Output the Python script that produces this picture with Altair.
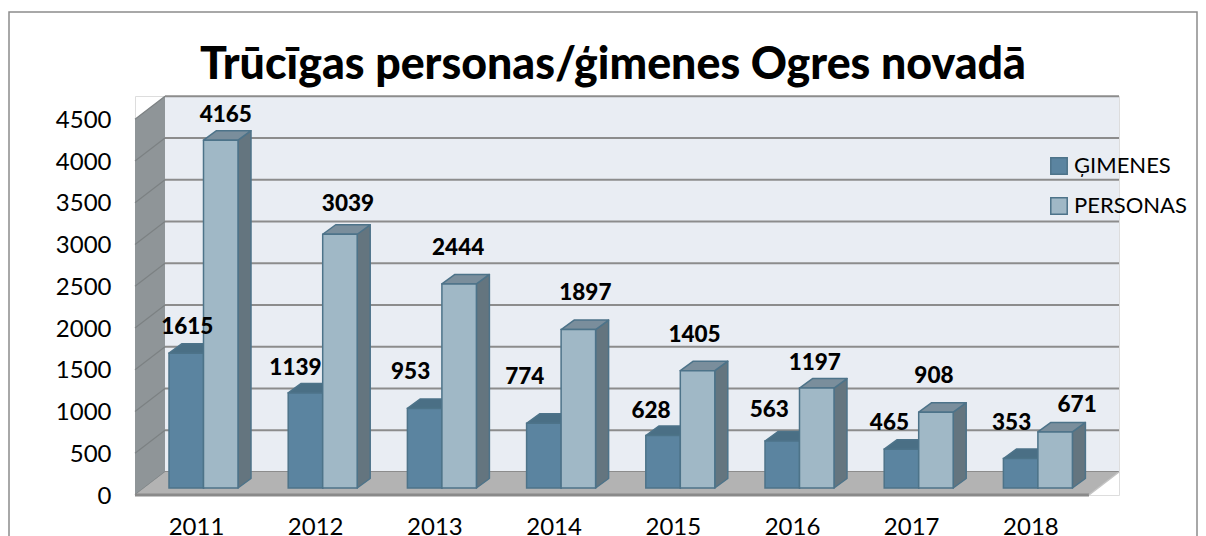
import altair as alt
import pandas as pd

years = [2011, 2012, 2013, 2014, 2015, 2016, 2017, 2018]
gimenes = [1615, 1139, 953, 774, 628, 563, 465, 353]
personas = [4165, 3039, 2444, 1897, 1405, 1197, 908, 671]
y_ticks = [0, 500, 1000, 1500, 2000, 2500, 3000, 3500, 4000, 4500]
title_text = "Trūcīgas personas/ģimenes Ogres novadā"
series_names = ["ĢIMENES", "PERSONAS"]

# hand-placed data labels of the original: shift from the bar's top centre, px
g_label_dx = [1, -10, -14, -19, -12, -13, -12, -9]
g_label_up = [26, 25, 36, 46, 25, 31, 26, 36]
p_label_dx = [5, 8, -1, 7, -3, -2, -2, 22]
p_label_up = [25, 30, 36, 37, 36, 25, 36, 27]

W, H = 984, 399
PX_PER_YEAR = 119.2
PX_PER_UNIT = 0.0835
x_dom = [2011 - 61 / PX_PER_YEAR, 2011 + 923 / PX_PER_YEAR]
y_dom = [0, H / PX_PER_UNIT]
xs = alt.Scale(domain=x_dom, nice=False, zero=False)
ys = alt.Scale(domain=y_dom, nice=False, zero=False)


def ux(px):
    return px / PX_PER_YEAR


def uy(px):
    return px / PX_PER_UNIT


wall_dx, wall_dy = ux(30), uy(23)
bar_w, bar_dx, bar_dy = ux(34.5), ux(13), uy(9.5)
base = uy(7)
bar_left = ux(-27)
x_l, x_r = x_dom[0], x_dom[1] - wall_dx
top_val = y_ticks[-1]


def X(field="x"):
    return alt.X(f"{field}:Q", scale=xs, title=None)


def Y(field="y"):
    return alt.Y(f"{field}:Q", scale=ys, title=None)


def area_layer(rows, fill, stroke=None, sw=0):
    kw = {"fill": fill, "opacity": 1}
    if stroke:
        kw.update(stroke=stroke, strokeWidth=sw, strokeJoin="round")
    return alt.Chart(pd.DataFrame(rows)).mark_area(**kw).encode(
        x=X(), y=Y(), y2="y2:Q", detail="id:N",
    )


back = area_layer(
    [{"id": 0, "x": x_l + wall_dx, "y": top_val + wall_dy, "y2": wall_dy},
     {"id": 0, "x": x_r + wall_dx, "y": top_val + wall_dy, "y2": wall_dy}],
    "#E9EDF3",
)
left = area_layer(
    [{"id": 0, "x": x_l, "y": top_val, "y2": 0},
     {"id": 0, "x": x_l + wall_dx, "y": top_val + wall_dy, "y2": wall_dy}],
    "#8F9598",
)
floor = area_layer(
    [{"id": 0, "x": x_l, "y": 0, "y2": 0},
     {"id": 0, "x": x_l + wall_dx, "y": wall_dy, "y2": 0},
     {"id": 0, "x": x_r, "y": wall_dy, "y2": 0},
     {"id": 0, "x": x_r + wall_dx, "y": wall_dy, "y2": wall_dy}],
    "#B3B3B3",
)

grid_df = pd.DataFrame({
    "x": [x_l + wall_dx] * len(y_ticks),
    "x2": [x_r + wall_dx] * len(y_ticks),
    "y": [v + wall_dy for v in y_ticks],
})
grid = alt.Chart(grid_df).mark_rule(color="#8C8C8C", strokeWidth=2).encode(
    x=X(), x2="x2:Q", y=Y(),
)
diag_df = pd.DataFrame({
    "x": [x_l] * len(y_ticks),
    "x2": [x_l + wall_dx] * len(y_ticks),
    "y": y_ticks,
    "y2": [v + wall_dy for v in y_ticks],
})
diag = alt.Chart(diag_df).mark_rule(color="#7C8183", strokeWidth=1.2).encode(
    x=X(), x2="x2:Q", y=Y(), y2="y2:Q",
)
front_edge = alt.Chart(pd.DataFrame({"x": [x_l], "x2": [x_r], "y": [0]})).mark_rule(
    color="#8A8A8A", strokeWidth=3
).encode(x=X(), x2="x2:Q", y=Y())
edge_r = alt.Chart(pd.DataFrame({"x": [x_r], "x2": [x_r + wall_dx], "y": [0], "y2": [wall_dy]})).mark_rule(
    color="#C4C4C4", strokeWidth=1.5
).encode(x=X(), x2="x2:Q", y=Y(), y2="y2:Q")


def bar_faces(values, shift, side_fill, top_fill, stroke):
    side, top = [], []
    for yr, v in zip(years, values):
        x0 = yr + bar_left + shift
        h = v + base
        side += [{"id": yr, "x": x0 + bar_w, "y": h, "y2": base},
                 {"id": yr, "x": x0 + bar_w + bar_dx, "y": h + bar_dy, "y2": base + bar_dy}]
        top += [{"id": yr, "x": x0, "y": h, "y2": h},
                {"id": yr, "x": x0 + bar_dx, "y": h + bar_dy, "y2": h},
                {"id": yr, "x": x0 + bar_w, "y": h + bar_dy, "y2": h},
                {"id": yr, "x": x0 + bar_w + bar_dx, "y": h + bar_dy, "y2": h + bar_dy}]
    return [area_layer(side, side_fill, stroke, 1.5), area_layer(top, top_fill, stroke, 1.5)]


STROKE = "#4D7389"
g_layers = bar_faces(gimenes, 0, "#4A6F85", "#4A6F85", STROKE)
p_layers = bar_faces(personas, bar_w, "#64757F", "#7A8E9C", STROKE)

color_scale = alt.Scale(domain=series_names, range=["#5B84A0", "#A0B8C6"])


def front(values, shift, name):
    df = pd.DataFrame({
        "x": [yr + bar_left + shift for yr in years],
        "x2": [yr + bar_left + shift + bar_w for yr in years],
        "y": [v + base for v in values],
        "y2": [base] * len(years),
        "s": [name] * len(years),
    })
    return alt.Chart(df).mark_rect(stroke=STROKE, strokeWidth=1.5).encode(
        x=X(), x2="x2:Q", y=Y(), y2="y2:Q",
        color=alt.Color("s:N", scale=color_scale, legend=alt.Legend(
            title=None, orient="none", legendX=913, legendY=59,
            symbolType="square", symbolSize=270, symbolStrokeWidth=1.5,
            symbolStrokeColor=STROKE, labelFont="Lato", labelFontSize=22,
            labelColor="#000000", rowPadding=16, labelOffset=4, labelLimit=200,
        )),
    )


def labels(values, shift, dxs, ups):
    df = pd.DataFrame({
        "x": [yr + bar_left + shift + bar_w / 2 + ux(d) for yr, d in zip(years, dxs)],
        "y": [v + base + uy(u) for v, u in zip(values, ups)],
        "t": [str(v) for v in values],
    })
    return alt.Chart(df).mark_text(
        font="Lato", fontSize=22.5, fontWeight=900, color="#000000", baseline="middle"
    ).encode(x=X(), y=Y(), text="t:N")


axes = alt.Chart(pd.DataFrame({"x": years, "y": [0] * len(years)})).mark_point(opacity=0).encode(
    x=alt.X("x:Q", scale=xs, title=None, axis=alt.Axis(
        values=years, format="d", labelPadding=20,
        labelOverlap=False, labelFlush=False,
    )),
    y=alt.Y("y:Q", scale=ys, title=None, axis=alt.Axis(
        values=y_ticks, format="d", labelPadding=24, labelOffset=1,
        labelOverlap=False, labelFlush=False,
    )),
)

frame = alt.Chart(pd.DataFrame({"a": [0]})).mark_rect(
    fillOpacity=0, stroke="#8C8C8C", strokeWidth=1.5
).encode(
    x=alt.value(-126), x2=alt.value(1062), y=alt.value(-84), y2=alt.value(470),
)

chart = alt.layer(
    frame, axes, back, left, grid, diag, floor, front_edge, edge_r,
    *g_layers, front(gimenes, 0, series_names[0]),
    *p_layers, front(personas, bar_w, series_names[1]),
    labels(gimenes, 0, g_label_dx, g_label_up),
    labels(personas, bar_w, p_label_dx, p_label_up),
).properties(
    width=W, height=H,
    title=alt.TitleParams(
        text=title_text, font="Lato", fontSize=44.7, fontWeight=900,
        color="#000000", anchor="middle", dx=-14, offset=-77,
    ),
    autosize=alt.AutoSizeParams(type="none"),
    padding={"left": 127, "top": 88, "right": 79, "bottom": 41},
).configure_view(stroke=None).configure(background="#FFFFFF").configure_axis(
    domain=False, ticks=False, grid=False,
    labelFont="Lato", labelFontSize=24, labelColor="#000000",
)

chart.save("out.html", embed_options={"renderer": "svg", "actions": False})
